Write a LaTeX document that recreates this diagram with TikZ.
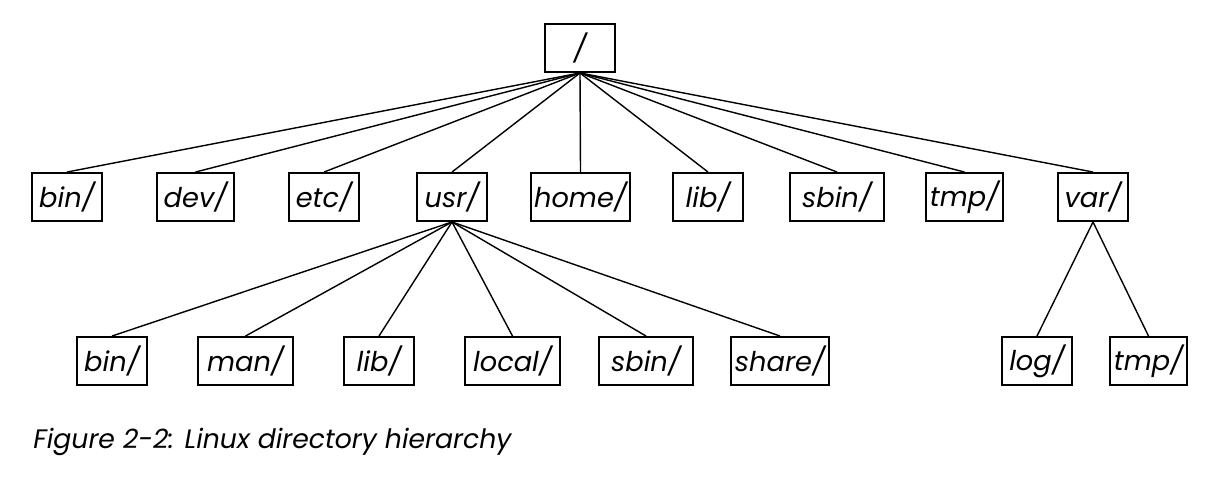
\documentclass[tikz,border=0pt]{standalone}
\usepackage{fontspec}
\setmainfont{Poppins}
\usepackage{tikz}
\usetikzlibrary{positioning}

\tikzset{
    dirbox/.style={draw, line width=1.1pt, minimum height=0.96cm, minimum width=1.4cm, inner sep=1pt, font=\fontsize{15.5}{18}\selectfont\itshape},
    link/.style={line width=0.8pt}
}

\begin{document}
\begin{tikzpicture}
        \useasboundingbox (0,0) rectangle (24.34,9.6);
        \node[dirbox] (root) at (11.6,8.64) {/};
        
        \node[dirbox] (bin) at (1.34,5.66) {bin/};
        \node[dirbox, minimum width=1.54cm] (dev) at (3.91,5.66) {dev/};
        \node[dirbox] (etc) at (6.48,5.66) {etc/};
        \node[dirbox] (usr) at (9.04,5.66) {usr/};
        \node[dirbox, minimum width=1.98cm] (home) at (11.61,5.66) {home/};
        \node[dirbox] (lib) at (14.16,5.66) {lib/};
        \node[dirbox, minimum width=1.88cm] (sbin) at (16.74,5.66) {sbin/};
        \node[dirbox, minimum width=1.54cm] (tmp) at (19.29,5.66) {tmp/};
        \node[dirbox] (var) at (21.86,5.66) {var/};
        
        \node[dirbox] (usr_bin) at (2.24,2.38) {bin/};
        \node[dirbox, minimum width=1.9cm] (usr_man) at (4.91,2.38) {man/};
        \node[dirbox] (usr_lib) at (7.58,2.38) {lib/};
        \node[dirbox, minimum width=1.9cm] (usr_local) at (10.25,2.38) {local/};
        \node[dirbox, minimum width=1.88cm] (usr_sbin) at (12.92,2.38) {sbin/};
        \node[dirbox, minimum width=1.96cm] (usr_share) at (15.6,2.38) {share/};
        \node[dirbox] (var_log) at (20.74,2.38) {log/};
        \node[dirbox, minimum width=1.54cm] (var_tmp) at (22.97,2.38) {tmp/};
        
        %root to first level
        \foreach \d in {bin,dev,etc,usr,home,lib,sbin,tmp,var}
            \draw[link] (root.south) -- (\d.north);
        
        %usr to its children
        \foreach \d in {bin,man,lib,local,sbin,share}
            \draw[link] (usr.south) -- (usr_\d.north);
        
        %var to its children
        \draw[link] (var.south) -- (var_log.north);
        \draw[link] (var.south) -- (var_tmp.north);
        
        \node[anchor=base west, inner sep=0pt, font=\fontsize{15.2}{18}\selectfont\itshape] (caption) at (0.66,0.64) {Figure 2-2: Linux directory hierarchy};
    \end{tikzpicture}
\end{document}
